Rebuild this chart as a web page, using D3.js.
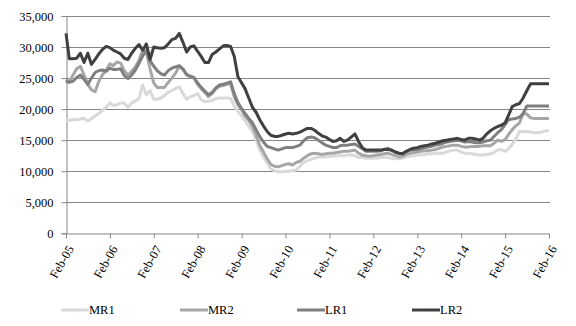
<!DOCTYPE html>
<html>
<head>
<meta charset="utf-8">
<script src="https://cdn.jsdelivr.net/npm/d3@7"></script>
<style>
  html, body { margin: 0; padding: 0; background: #fff; }
  svg { display: block; }
  text { font-family: "Liberation Serif", "Times New Roman", serif; }
</style>
</head>
<body>
<svg id="chart" width="576" height="326"></svg>
<script>
// ---- Data (monthly, Feb-05 .. Feb-16) ----
const seriesNames = ["MR1", "MR2", "LR1", "LR2"];
const seriesColors = ["#d9d9d9", "#a6a6a6", "#7f7f7f", "#404040"];
const tickLabels = ["Feb-05","Feb-06","Feb-07","Feb-08","Feb-09","Feb-10","Feb-11","Feb-12","Feb-13","Feb-14","Feb-15","Feb-16"];
const yTicks = [0, 5000, 10000, 15000, 20000, 25000, 30000, 35000];

const MR1 = [18200,18200,18300,18300,18400,18500,18100,18500,18900,19300,19800,20300,
  21000,20600,20700,21000,21000,20300,21000,21300,21700,23900,22300,23000,
  21600,21600,21800,22200,22700,23000,23300,23600,22500,21600,22000,22200,
  22500,21500,21200,21300,21400,21700,21800,21800,21800,21700,20500,19600,
  18900,18100,17200,16400,15100,13400,12300,11300,10400,10100,9900,9900,
  10000,10000,10100,10200,10800,11400,11700,11900,12100,12300,12300,12300,
  12400,12400,12500,12500,12500,12600,12600,12500,12200,12200,12100,12100,
  12100,12100,12200,12300,12200,12100,12000,12000,12100,12300,12400,12500,
  12600,12600,12700,12800,12800,12900,12900,12900,13100,13300,13400,13400,
  13100,12900,12900,12800,12700,12600,12600,12700,12800,13000,13400,13500,
  13200,13600,14300,15200,16400,16400,16400,16300,16200,16200,16300,16500,16500];

const MR2 = [24200,24500,25500,26500,26900,25500,24000,23100,22800,24500,25500,26300,
  27300,27000,27600,27400,26200,25500,26100,26800,27900,29500,29200,26500,
  24200,23500,23500,23500,24300,25000,25800,26900,26400,25500,25200,25000,
  24000,23300,22700,22000,22500,23300,23700,23800,24000,24100,22000,20700,
  19900,18900,18200,17200,15800,14200,13100,12000,11100,10800,10700,10900,
  11100,11200,11000,11400,11600,12100,12500,12800,12900,12800,12700,12800,
  12900,12900,13000,13100,13200,13200,13300,13400,12900,12600,12500,12400,
  12500,12600,12700,12800,12900,12700,12500,12300,12400,12700,12900,13000,
  13100,13200,13300,13300,13400,13500,13700,13900,14000,14100,14200,14200,
  14000,13900,13900,14000,14000,14000,14100,14100,14100,14500,15000,14800,
  15100,15900,16700,17300,17800,19300,19200,18600,18500,18500,18500,18500,18500];

const LR1 = [24700,24300,24500,25100,25500,24800,24000,25000,25900,26200,26300,26100,
  26600,26400,26400,26500,25400,24900,25500,26300,27400,28600,29400,27800,
  26900,26200,25700,25500,26200,26600,26800,27000,26500,25600,25300,25100,
  24200,23500,22900,22300,22700,23400,23900,24000,24200,24400,22500,21000,
  20100,19300,18500,17800,16700,15600,14700,14000,13800,13600,13400,13600,
  13800,13800,13800,14000,14200,14900,15400,15500,15400,15000,14600,14200,
  14000,13800,13800,14100,14200,14200,14300,14400,14000,13600,13200,13200,
  13200,13200,13300,13500,13700,13400,13100,12900,12800,13200,13400,13500,
  13500,13600,13800,13900,14000,14200,14300,14500,14700,14800,14900,15000,
  14900,14700,14800,14700,14600,14600,14700,14900,15000,15600,16200,16700,
  17500,18300,18400,18500,18700,19300,20500,20500,20500,20500,20500,20500,20500];

const LR2 = [32200,28100,28100,28200,29000,27500,29000,27200,28000,28900,29600,30100,
  29900,29500,29200,28900,28200,28000,29000,29800,30400,29500,30500,28000,
  30000,29900,29800,29900,30500,31200,31400,32200,30800,29200,30000,30200,
  29300,28500,27500,27500,28800,29200,29700,30200,30250,30100,28500,25200,
  24200,23300,21800,20300,19500,18300,17300,16400,15800,15600,15600,15800,
  16000,16100,16000,16100,16300,16600,16900,16900,16600,16100,15700,15500,
  15100,14800,14900,15300,14800,15000,15500,16000,14800,13800,13400,13400,
  13400,13400,13400,13500,13500,13400,13100,12900,12800,13200,13500,13700,
  13800,14000,14100,14200,14400,14500,14700,14900,15000,15100,15200,15300,
  15100,15000,15300,15300,15200,15000,15300,16000,16500,16900,17200,17400,
  17800,19000,20400,20700,20900,21800,23000,24100,24100,24100,24100,24100,24100];

const seriesValues = [MR1, MR2, LR1, LR2];

// ---- Setup ----
const months = d3.timeMonth.range(new Date(2005, 1, 1), new Date(2016, 2, 1));
const parseTick = d3.timeParse("%b-%y");
const tickDates = tickLabels.map(parseTick);

const svg = d3.select("#chart");
const x = d3.scaleTime().domain([months[0], months[months.length - 1]]).range([66, 549]);
const y = d3.scaleLinear().domain([0, 35000]).range([233.3, 16]);
const fontFam = "'Liberation Serif', 'Times New Roman', serif";

// gridlines
svg.append("g")
  .selectAll("line")
  .data(yTicks.filter(d => d > 0))
  .join("line")
  .attr("x1", 66).attr("x2", 550)
  .attr("y1", d => Math.round(y(d)) + 0.5).attr("y2", d => Math.round(y(d)) + 0.5)
  .attr("stroke", "#868686").attr("stroke-width", 1);

// y axis
const yAxis = svg.append("g")
  .attr("transform", "translate(66.5,0)")
  .call(d3.axisLeft(y).tickValues(yTicks).tickFormat(d3.format(",")).tickSize(5).tickPadding(8));
yAxis.select(".domain").attr("stroke", "#868686");
yAxis.selectAll(".tick line").attr("stroke", "#868686");
yAxis.selectAll(".tick text").attr("font-size", 12.5).attr("fill", "#000")
  .attr("font-family", fontFam);

// x axis
const xAxis = svg.append("g")
  .attr("transform", `translate(0,${Math.round(y(0)) + 0.5})`)
  .call(d3.axisBottom(x).tickValues(tickDates).tickFormat(d3.timeFormat("%b-%y")).tickSize(5).tickSizeOuter(0));
xAxis.select(".domain").attr("stroke", "#868686");
xAxis.selectAll(".tick line").attr("stroke", "#868686");
xAxis.selectAll(".tick text")
  .attr("font-size", 12.5).attr("fill", "#000")
  .attr("font-family", fontFam)
  .attr("text-anchor", "end")
  .attr("transform", "translate(4,13) rotate(-60)")
  .attr("x", 0).attr("y", 0).attr("dy", "0.35em");

// lines
const line = d3.line()
  .x((d, i) => x(months[i]))
  .y(d => y(d));

svg.append("g")
  .selectAll("path")
  .data(seriesValues)
  .join("path")
  .attr("d", d => line(d))
  .attr("fill", "none")
  .attr("stroke", (d, i) => seriesColors[i])
  .attr("stroke-width", 3)
  .attr("stroke-linejoin", "round");

// legend
const legendX = [61, 180, 297, 412];
const lg = svg.append("g").attr("transform", "translate(0,310)");
const items = lg.selectAll("g").data(seriesNames).join("g")
  .attr("transform", (d, i) => `translate(${legendX[i]},0)`);
items.append("line").attr("x1", 0).attr("x2", 28).attr("y1", 0).attr("y2", 0)
  .attr("stroke", (d, i) => seriesColors[i]).attr("stroke-width", 3);
items.append("text").attr("x", 28).attr("y", 0).attr("dy", "0.35em")
  .attr("font-size", 12.5).attr("fill", "#000").attr("font-family", fontFam).text(d => d);
</script>
</body>
</html>
